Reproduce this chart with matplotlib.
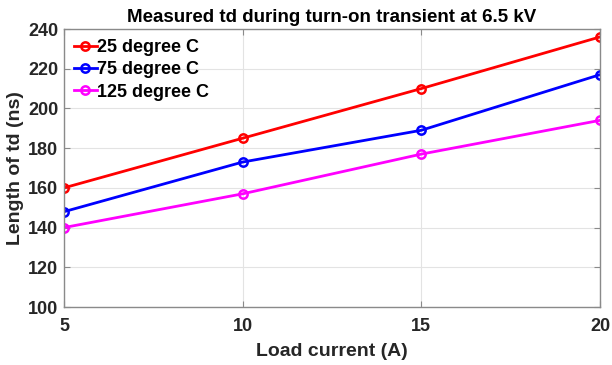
import matplotlib.pyplot as plt

plt.rcParams['font.family'] = ['Liberation Sans', 'DejaVu Sans']
plt.rcParams['font.weight'] = 'bold'

load_current = [5, 10, 15, 20]
td_25c = [160, 185, 210, 236]
td_75c = [148, 173, 189, 217]
td_125c = [140, 157, 177, 194]

fig = plt.figure(figsize=(6.12, 3.65), dpi=100)
ax = fig.add_axes([64 / 612, 1 - 307 / 365, (600 - 64) / 612, (307 - 29) / 365])

ax.plot(load_current, td_25c, '-o', color='#ff0000', lw=2, ms=6, mfc='none', mew=1.8, label='25 degree C')
ax.plot(load_current, td_75c, '-o', color='#0000ff', lw=2, ms=6, mfc='none', mew=1.8, label='75 degree C')
ax.plot(load_current, td_125c, '-o', color='#ff00ff', lw=2, ms=6, mfc='none', mew=1.8, label='125 degree C')

ax.set_xlim(5, 20)
ax.set_ylim(100, 240)
ax.set_xticks([5, 10, 15, 20])
ax.set_yticks(range(100, 241, 20))
ax.grid(True, color='#e3e3e3', lw=0.8)
ax.set_axisbelow(True)
for s in ax.spines.values():
    s.set_color('#8a8a8a')
    s.set_linewidth(1)
ax.tick_params(direction='in', length=4, color='#8a8a8a', labelsize=13,
               top=True, right=True)
ax.tick_params(axis='x', pad=8)
ax.tick_params(axis='y', pad=4)
for lab in ax.get_xticklabels() + ax.get_yticklabels():
    lab.set_fontweight('bold')
    lab.set_color('#262626')

ax.set_xlabel('Load current (A)', fontsize=14, fontweight='bold', color='#262626', labelpad=6)
ax.set_ylabel('Length of td (ns)', fontsize=14, fontweight='bold', color='#262626', labelpad=3)
ax.set_title('Measured td during turn-on transient at 6.5 kV', fontsize=13.5, fontweight='bold', pad=5)

leg = ax.legend(loc='upper left', frameon=False, handlelength=1.25,
                handletextpad=0.05, borderaxespad=0.25, labelspacing=0.3,
                borderpad=0.3, prop={'weight': 'bold', 'size': 13})

fig.savefig('out.png', dpi=100)
